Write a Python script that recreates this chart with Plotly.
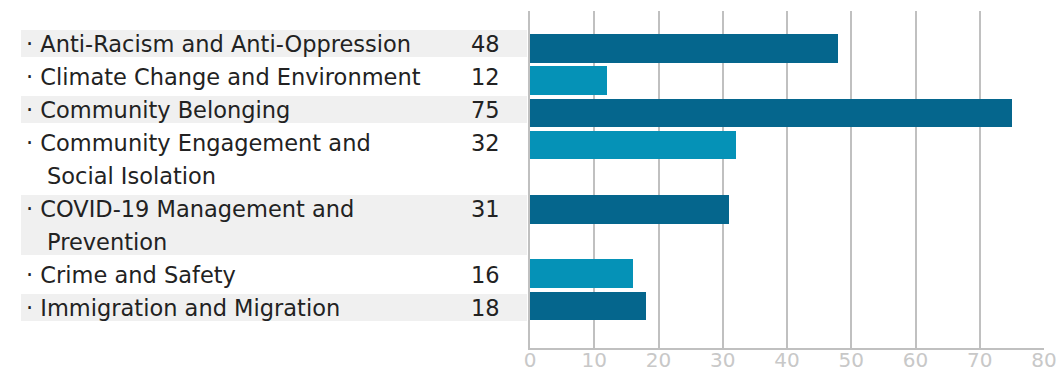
import plotly.graph_objects as go

# ---- data ----
categories = [
    "Anti-Racism and Anti-Oppression",
    "Climate Change and Environment",
    "Community Belonging",
    "Community Engagement and Social Isolation",
    "COVID-19 Management and Prevention",
    "Crime and Safety",
    "Immigration and Migration",
]
label_lines = [
    ["Anti-Racism and Anti-Oppression"],
    ["Climate Change and Environment"],
    ["Community Belonging"],
    ["Community Engagement and", "Social Isolation"],
    ["COVID-19 Management and", "Prevention"],
    ["Crime and Safety"],
    ["Immigration and Migration"],
]
values = [48, 12, 75, 32, 31, 16, 18]
x_ticks = [0, 10, 20, 30, 40, 50, 60, 70, 80]

# ---- layout constants (pixels) ----
W, H = 1061, 371
PL, PR, PT, PB = 530, 17, 11, 23
X0, X1 = PL, W - PR
DARK, LIGHT = "#05668D", "#0592B7"
BAND = "#F0F0F0"
FONT = "DejaVu Sans"
LABEL_SIZE = 22.5


def px(xpix):
    return (xpix - X0) / (X1 - X0)


# row start (in lines) derived from label line counts
starts = []
acc = 0
for lines in label_lines:
    starts.append(acc)
    acc += len(lines)

BAR_PITCH, BAR_OFF = 32.16, 48.5
ROW_PITCH, ROW_OFF = 33.0, 30.0

bar_y = [BAR_OFF + BAR_PITCH * s for s in starts]
colors = [DARK if i % 2 == 0 else LIGHT for i in range(len(values))]

fig = go.Figure(
    go.Bar(
        x=values,
        y=bar_y,
        orientation="h",
        width=28.5,
        marker=dict(color=colors, line=dict(width=0)),
        hoverinfo="skip",
    )
)

shapes = []
annotations = []
for i, (lines, s) in enumerate(zip(label_lines, starts)):
    top = ROW_OFF + ROW_PITCH * s
    if i % 2 == 0:
        shapes.append(
            dict(
                type="rect", xref="paper", yref="y",
                x0=px(21), x1=px(527), y0=top, y1=top + ROW_PITCH * len(lines) - 6,
                fillcolor=BAND, line=dict(width=0), layer="below",
            )
        )
    for j, ln in enumerate(lines):
        txt = ("· " + ln) if j == 0 else ln
        annotations.append(
            dict(
                text=txt, xref="paper", yref="y",
                x=px(24 if j == 0 else 45), y=top + 14 + ROW_PITCH * j,
                xanchor="left", yanchor="middle", showarrow=False,
                font=dict(family=FONT, size=LABEL_SIZE, color="#222222"),
            )
        )
    annotations.append(
        dict(
            text=str(values[i]), xref="paper", yref="y",
            x=px(469), y=top + 14,
            xanchor="left", yanchor="middle", showarrow=False,
            font=dict(family=FONT, size=LABEL_SIZE, color="#222222"),
        )
    )

fig.update_layout(
    width=W, height=H,
    margin=dict(l=PL, r=PR, t=PT, b=PB, pad=0, autoexpand=False),
    paper_bgcolor="white", plot_bgcolor="white",
    showlegend=False,
    bargap=0,
    shapes=shapes,
    annotations=annotations,
    xaxis=dict(
        range=[0, 80], tickvals=x_ticks, showgrid=True, gridcolor="#C0C0C0", gridwidth=2,
        zeroline=False, showline=True, linecolor="#C0C0C0", linewidth=2,
        ticks="", automargin=False, ticklabelstandoff=-7,
        tickfont=dict(family=FONT, size=20, color="#C8C8C8"),
    ),
    yaxis=dict(
        range=[H - PB, PT], showgrid=False, zeroline=False, showticklabels=False,
        showline=True, linecolor="#C0C0C0", linewidth=2, ticks="", automargin=False,
    ),
)

fig.write_html("out.html")
